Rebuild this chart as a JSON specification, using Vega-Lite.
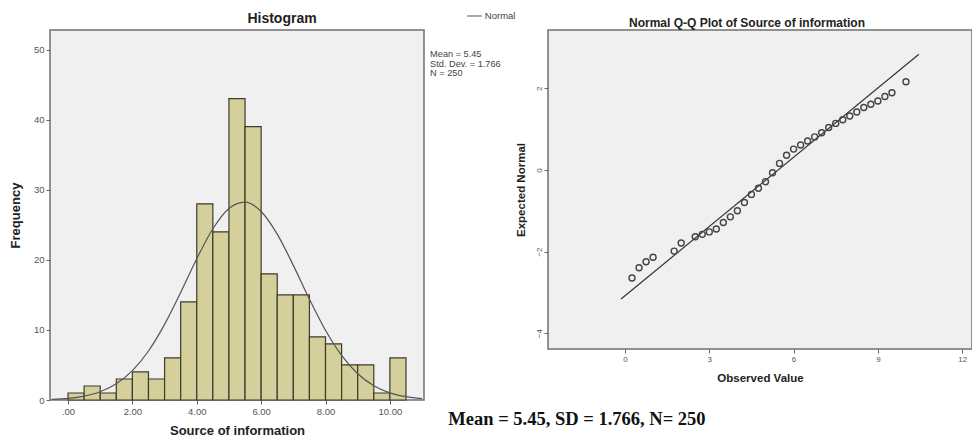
{
  "$schema": "https://vega.github.io/schema/vega-lite/v6.json",
  "padding": {"left": 8, "top": 10, "right": 0, "bottom": 0},
  "background": "white",
  "spacing": 124,
  "bounds": "flush",
  "config": {
    "font": "Liberation Sans",
    "view": {"fill": "#f0f0f0", "stroke": "#707070", "strokeWidth": 1.5},
    "axis": {"grid": false, "domain": false, "tickColor": "#666", "tickSize": 4, "labelColor": "#555", "labelPadding": 2, "titleFontWeight": "bold", "titleColor": "#222"}
  },
  "datasets": {
    "hist": [
      {"bin_start": 0.0, "bin_end": 0.5, "count": 1},
      {"bin_start": 0.5, "bin_end": 1.0, "count": 2},
      {"bin_start": 1.0, "bin_end": 1.5, "count": 1},
      {"bin_start": 1.5, "bin_end": 2.0, "count": 3},
      {"bin_start": 2.0, "bin_end": 2.5, "count": 4},
      {"bin_start": 2.5, "bin_end": 3.0, "count": 3},
      {"bin_start": 3.0, "bin_end": 3.5, "count": 6},
      {"bin_start": 3.5, "bin_end": 4.0, "count": 14},
      {"bin_start": 4.0, "bin_end": 4.5, "count": 28},
      {"bin_start": 4.5, "bin_end": 5.0, "count": 24},
      {"bin_start": 5.0, "bin_end": 5.5, "count": 43},
      {"bin_start": 5.5, "bin_end": 6.0, "count": 39},
      {"bin_start": 6.0, "bin_end": 6.5, "count": 18},
      {"bin_start": 6.5, "bin_end": 7.0, "count": 15},
      {"bin_start": 7.0, "bin_end": 7.5, "count": 15},
      {"bin_start": 7.5, "bin_end": 8.0, "count": 9},
      {"bin_start": 8.0, "bin_end": 8.5, "count": 8},
      {"bin_start": 8.5, "bin_end": 9.0, "count": 5},
      {"bin_start": 9.0, "bin_end": 9.5, "count": 5},
      {"bin_start": 9.5, "bin_end": 10.0, "count": 1},
      {"bin_start": 10.0, "bin_end": 10.5, "count": 6}
    ],
    "curve": [
      {"x": -0.5, "density": 0.097},
      {"x": 0.0, "density": 0.241},
      {"x": 0.5, "density": 0.556},
      {"x": 1.0, "density": 1.181},
      {"x": 1.5, "density": 2.315},
      {"x": 2.0, "density": 4.19},
      {"x": 2.5, "density": 6.997},
      {"x": 3.0, "density": 10.789},
      {"x": 3.5, "density": 15.35},
      {"x": 4.0, "density": 20.159},
      {"x": 4.5, "density": 24.436},
      {"x": 5.0, "density": 27.338},
      {"x": 5.5, "density": 28.229},
      {"x": 6.0, "density": 26.903},
      {"x": 6.5, "density": 23.665},
      {"x": 7.0, "density": 19.213},
      {"x": 7.5, "density": 14.397},
      {"x": 8.0, "density": 9.957},
      {"x": 8.5, "density": 6.356},
      {"x": 9.0, "density": 3.745},
      {"x": 9.5, "density": 2.036},
      {"x": 10.0, "density": 1.022},
      {"x": 10.5, "density": 0.473},
      {"x": 11.0, "density": 0.202}
    ],
    "qq": [
      {"observed": 0.25, "expected": -2.65},
      {"observed": 0.5, "expected": -2.4},
      {"observed": 0.75, "expected": -2.25},
      {"observed": 1.0, "expected": -2.14},
      {"observed": 1.75, "expected": -1.99},
      {"observed": 2.0, "expected": -1.79},
      {"observed": 2.5, "expected": -1.64},
      {"observed": 2.75, "expected": -1.58},
      {"observed": 3.0, "expected": -1.52},
      {"observed": 3.25, "expected": -1.45},
      {"observed": 3.5, "expected": -1.29},
      {"observed": 3.75, "expected": -1.15},
      {"observed": 4.0, "expected": -1.0},
      {"observed": 4.25, "expected": -0.8},
      {"observed": 4.5, "expected": -0.6},
      {"observed": 4.75, "expected": -0.45},
      {"observed": 5.0, "expected": -0.29},
      {"observed": 5.25, "expected": -0.07},
      {"observed": 5.5, "expected": 0.16},
      {"observed": 5.75, "expected": 0.36},
      {"observed": 6.0, "expected": 0.51},
      {"observed": 6.25, "expected": 0.61},
      {"observed": 6.5, "expected": 0.71},
      {"observed": 6.75, "expected": 0.81},
      {"observed": 7.0, "expected": 0.91},
      {"observed": 7.25, "expected": 1.04},
      {"observed": 7.5, "expected": 1.14},
      {"observed": 7.75, "expected": 1.23},
      {"observed": 8.0, "expected": 1.32},
      {"observed": 8.25, "expected": 1.42},
      {"observed": 8.5, "expected": 1.53},
      {"observed": 8.75, "expected": 1.61},
      {"observed": 9.0, "expected": 1.69},
      {"observed": 9.25, "expected": 1.8},
      {"observed": 9.5, "expected": 1.89},
      {"observed": 10.0, "expected": 2.16}
    ],
    "qqline": [
      {"observed": -0.14, "expected": -3.165},
      {"observed": 10.46, "expected": 2.837}
    ]
  },
  "hconcat": [
    {
      "width": 374,
      "height": 370,
      "title": {"text": "Histogram", "fontSize": 14, "fontWeight": "bold", "color": "#222", "frame": "group", "anchor": "middle", "dx": 45, "offset": -26, "baseline": "alphabetic"},
      "layer": [
        {
          "data": {"name": "hist"},
          "mark": {"type": "bar", "fill": "#d5cf9b", "stroke": "#3d3b2a", "strokeWidth": 1.2},
          "encoding": {
            "x": {"field": "bin_start", "type": "quantitative", "scale": {"domain": [-0.56, 11.06], "nice": false, "zero": false},
              "axis": {"title": "Source of information", "values": [0, 2, 4, 6, 8, 10], "labelExpr": "datum.value == 0 ? '.00' : format(datum.value, '.2f')", "labelFontSize": 9.5, "titleFontSize": 13, "titlePadding": 9}},
            "x2": {"field": "bin_end"},
            "y": {"field": "count", "type": "quantitative", "scale": {"domain": [0, 52.8], "nice": false},
              "axis": {"title": "Frequency", "values": [0, 10, 20, 30, 40, 50], "labelFontSize": 9.5, "titleFontSize": 13, "titlePadding": 11}},
            "y2": {"datum": 0}
          }
        },
        {
          "data": {"name": "curve"},
          "mark": {"type": "line", "stroke": "#555", "strokeWidth": 1.2, "interpolate": "monotone"},
          "encoding": {
            "x": {"field": "x", "type": "quantitative"},
            "y": {"field": "density", "type": "quantitative"}
          }
        },
        {
          "data": {"values": [{}]},
          "mark": {"type": "text", "align": "left", "baseline": "top", "fontSize": 9.2, "lineHeight": 9.2, "color": "#444"},
          "encoding": {
            "x": {"datum": 11.25},
            "y": {"datum": 49.9},
            "text": {"value": ["Mean = 5.45", "Std. Dev. = 1.766", "N = 250"]}
          }
        },
        {
          "data": {"values": [{}]},
          "mark": {"type": "rule", "stroke": "#555", "strokeWidth": 1},
          "encoding": {
            "x": {"datum": 12.4},
            "x2": {"datum": 12.86},
            "y": {"datum": 54.8}
          }
        },
        {
          "data": {"values": [{}]},
          "mark": {"type": "text", "align": "left", "baseline": "middle", "fontSize": 9.5, "color": "#444"},
          "encoding": {
            "x": {"datum": 12.95},
            "y": {"datum": 54.8},
            "text": {"value": "Normal"}
          }
        }
      ]
    },
    {
      "width": 424,
      "height": 319,
      "title": {"text": "Normal Q-Q Plot of Source of information", "fontSize": 12, "fontWeight": "bold", "color": "#222", "frame": "group", "anchor": "middle", "dx": -13, "offset": -9, "baseline": "alphabetic"},
      "layer": [
        {
          "data": {"name": "qqline"},
          "mark": {"type": "line", "stroke": "#333", "strokeWidth": 1.2},
          "encoding": {
            "x": {"field": "observed", "type": "quantitative", "scale": {"domain": [-2.74, 12.35], "nice": false, "zero": false},
              "axis": {"title": "Observed Value", "values": [0, 3, 6, 9, 12], "labelFontSize": 8, "titleFontSize": 11.5, "titlePadding": 9}},
            "y": {"field": "expected", "type": "quantitative", "scale": {"domain": [-4.39, 3.43], "nice": false, "zero": false},
              "axis": {"title": "Expected Normal", "values": [-4, -2, 0, 2], "labelAngle": -90, "labelAlign": "center", "labelBaseline": "bottom", "labelPadding": 1, "labelFontSize": 8, "titleFontSize": 11.5, "titlePadding": 9}}
          }
        },
        {
          "data": {"name": "qq"},
          "mark": {"type": "point", "shape": "circle", "filled": false, "size": 36, "stroke": "#444", "strokeWidth": 1.4, "opacity": 1},
          "encoding": {
            "x": {"field": "observed", "type": "quantitative"},
            "y": {"field": "expected", "type": "quantitative"}
          }
        },
        {
          "data": {"values": [{}]},
          "mark": {"type": "text", "align": "center", "baseline": "alphabetic", "font": "Liberation Serif", "fontWeight": "bold", "fontSize": 18.5, "color": "#111"},
          "encoding": {
            "x": {"datum": -1.71},
            "y": {"datum": -6.26},
            "text": {"value": "Mean = 5.45, SD = 1.766, N= 250"}
          }
        }
      ]
    }
  ]
}
